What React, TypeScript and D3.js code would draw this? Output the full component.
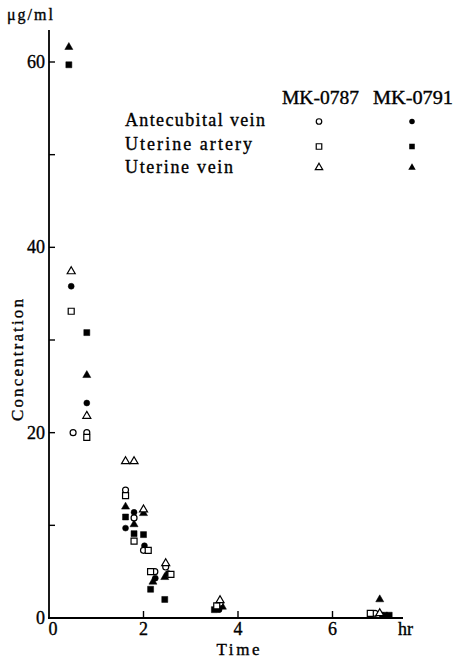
import React from "react";
import * as d3 from "d3";

// ---- data (time in hr, concentration in µg/ml) ----
const antecubitalOpenT = [0.51, 0.8, 1.62, 1.8, 2.0, 2.24, 2.47, 3.62, 6.9];
const antecubitalOpenV = [20.0, 20.0, 13.8, 10.8, 7.3, 5.0, 5.5, 1.6, 0.5];
const arteryOpenT = [0.47, 0.8, 1.62, 1.8, 2.1, 2.15, 2.58, 3.55, 6.8];
const arteryOpenV = [33.1, 19.5, 13.2, 8.3, 7.3, 5.0, 4.7, 1.3, 0.5];
const veinOpenT = [0.47, 0.8, 1.62, 1.8, 2.0, 2.47, 3.62, 7.0];
const veinOpenV = [37.4, 21.8, 16.9, 16.9, 11.7, 5.9, 1.9, 0.5];

const antecubitalFillT = [0.47, 0.8, 1.62, 1.8, 2.02, 2.25, 2.52, 3.6, 7.05];
const antecubitalFillV = [35.8, 23.2, 9.7, 11.4, 7.8, 4.3, 4.8, 0.9, 0.3];
const arteryFillT = [0.42, 0.8, 1.62, 1.8, 2.0, 2.15, 2.45, 3.5, 7.1, 7.2];
const arteryFillV = [59.7, 30.8, 10.9, 9.1, 9.0, 3.1, 2.0, 0.9, 0.3, 0.3];
const veinFillT = [0.42, 0.8, 1.62, 1.8, 2.0, 2.2, 2.45, 3.67, 7.0];
const veinFillV = [61.6, 26.2, 12.0, 10.1, 11.3, 3.9, 4.4, 1.2, 2.0];

const yTickValues = [0, 10, 20, 30, 40, 50, 60];
const yTickLabels = ["0", "", "20", "", "40", "", "60"];
const xTickValues = [2, 4, 6];
const xTickLabels = ["2", "4", "6"];

const drugs = ["MK-0787", "MK-0791"];
const sites = ["Antecubital vein", "Uterine artery", "Uterine vein"];

const FONT = "'Liberation Serif', 'Times New Roman', serif";

type Series = { t: number[]; v: number[]; shape: string; filled: boolean };
const series: Series[] = [
  { t: antecubitalFillT, v: antecubitalFillV, shape: "circle", filled: true },
  { t: arteryFillT, v: arteryFillV, shape: "square", filled: true },
  { t: veinFillT, v: veinFillV, shape: "triangle", filled: true },
  { t: antecubitalOpenT, v: antecubitalOpenV, shape: "circle", filled: false },
  { t: arteryOpenT, v: arteryOpenV, shape: "square", filled: false },
  { t: veinOpenT, v: veinOpenV, shape: "triangle", filled: false },
];

const symType: Record<string, d3.SymbolType> = {
  circle: d3.symbolCircle,
  square: d3.symbolSquare,
  triangle: d3.symbolTriangle,
};
const symSize: Record<string, number> = { circle: 28, square: 36, triangle: 28 };

export default function App() {
  const W = 455;
  const H = 662;
  const x = d3.scaleLinear().domain([0, 6]).range([49, 332.5]);
  const y = d3.scaleLinear().domain([0, 60]).range([618, 62]);
  const axisX = x(0);
  const axisY = y(0);
  const xEnd = 403;
  const yTop = 30;

  const sym = (shape: string, scale = 1) =>
    d3.symbol().type(symType[shape]).size(symSize[shape] * scale)() as string;

  const legendRows = [121.5, 146.5, 167.5];
  const legendText = [126, 150, 173];
  const siteWidths = [140, 127, 108];
  const shapes = ["circle", "square", "triangle"];
  const ts = { stroke: "#000", strokeWidth: 0.35 };

  return (
    <svg
      width={W}
      height={H}
      style={{ position: "absolute", left: 0, top: 0, background: "#fff" }}
      fontFamily={FONT}
    >
      <rect width={W} height={H} fill="#fff" />
      {/* axes */}
      <line x1={axisX} y1={yTop} x2={axisX} y2={axisY + 1} stroke="#000" strokeWidth={1.8} />
      <line x1={axisX - 1} y1={axisY} x2={xEnd} y2={axisY} stroke="#000" strokeWidth={1.8} />
      {yTickValues.map((v, i) => (
        <g key={"yt" + v}>
          {v > 0 && (
            <line x1={axisX} x2={axisX + 6} y1={y(v)} y2={y(v)} stroke="#000" strokeWidth={1.4} />
          )}
          {yTickLabels[i] && (
            <text x={axisX - 4} y={y(v) + 6} textAnchor="end" fontSize={18} {...ts}>
              {yTickLabels[i]}
            </text>
          )}
        </g>
      ))}
      {xTickValues.map((v, i) => (
        <g key={"xt" + v}>
          <line x1={x(v)} x2={x(v)} y1={axisY} y2={axisY - 7} stroke="#000" strokeWidth={1.4} />
          <text x={x(v)} y={635} textAnchor="middle" fontSize={18} {...ts}>
            {xTickLabels[i]}
          </text>
        </g>
      ))}
      <text x={x(0) + 4} y={635} textAnchor="middle" fontSize={18} {...ts}>0</text>
      <text x={398} y={635} fontSize={18} {...ts}>hr</text>
      <text x={238} y={655} textAnchor="middle" fontSize={17} textLength={43} lengthAdjust="spacing" {...ts}>
        Time
      </text>
      <text
        transform={`translate(23, 360) rotate(-90)`}
        textAnchor="middle"
        fontSize={17}
        textLength={122}
        lengthAdjust="spacing"
        {...ts}
      >
        Concentration
      </text>
      <text x={7} y={20} fontSize={16} textLength={46} lengthAdjust="spacing" {...ts}>
        μg/ml
      </text>

      {/* legend */}
      <text x={282} y={104} fontSize={18} textLength={77} lengthAdjust="spacingAndGlyphs" {...ts}>
        {drugs[0]}
      </text>
      <text x={373} y={104} fontSize={18} textLength={80} lengthAdjust="spacingAndGlyphs" {...ts}>
        {drugs[1]}
      </text>
      {sites.map((s, i) => (
        <g key={s}>
          <text x={125} y={legendText[i]} fontSize={18} textLength={siteWidths[i]} lengthAdjust="spacing" {...ts}>
            {s}
          </text>
          <path
            d={sym(shapes[i], 0.85)}
            transform={`translate(319, ${legendRows[i]})`}
            fill="#fff"
            stroke="#000"
            strokeWidth={1.2}
          />
          <path
            d={sym(shapes[i], 0.85)}
            transform={`translate(412, ${legendRows[i]})`}
            fill="#000"
          />
        </g>
      ))}

      {/* data points */}
      {series.map((s, si) =>
        s.t.map((t, j) => (
          <path
            key={`p${si}-${j}`}
            d={sym(s.shape)}
            transform={`translate(${x(t)}, ${y(s.v[j])})`}
            fill={s.filled ? "#000" : "#fff"}
            stroke="#000"
            strokeWidth={s.filled ? 0.5 : 1.2}
          />
        ))
      )}
    </svg>
  );
}
